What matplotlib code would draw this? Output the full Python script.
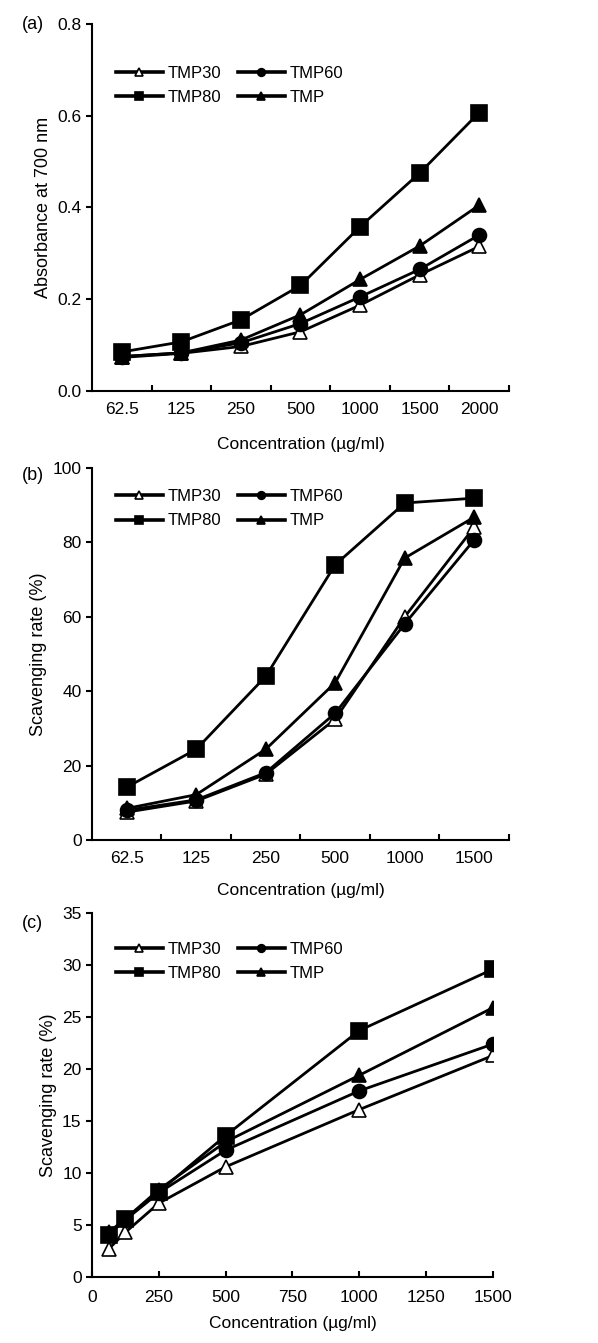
import matplotlib
matplotlib.use('Agg')
import matplotlib.pyplot as plt

plt.rcParams['font.family'] = ['Liberation Sans', 'DejaVu Sans']
plt.rcParams['font.size'] = 12

# panel (a): reducing power
conc_a = ['62.5', '125', '250', '500', '1000', '1500', '2000']
a_tmp30 = [0.073, 0.082, 0.097, 0.129, 0.187, 0.253, 0.315]
a_tmp60 = [0.075, 0.083, 0.105, 0.147, 0.205, 0.265, 0.340]
a_tmp80 = [0.085, 0.107, 0.155, 0.230, 0.358, 0.475, 0.607]
a_tmp = [0.075, 0.083, 0.111, 0.166, 0.243, 0.316, 0.405]

# panel (b)
conc_b = ['62.5', '125', '250', '500', '1000', '1500']
b_tmp30 = [7.5, 10.5, 17.7, 32.5, 60.0, 84.1]
b_tmp60 = [8.0, 10.8, 18.1, 34.1, 58.1, 80.7]
b_tmp80 = [14.2, 24.4, 44.0, 74.0, 90.6, 91.9]
b_tmp = [8.5, 12.2, 24.4, 42.3, 75.8, 86.8]

# panel (c)
conc_c = [62.5, 125, 250, 500, 1000, 1500]
c_tmp30 = [2.7, 4.3, 7.1, 10.6, 16.1, 21.3]
c_tmp60 = [4.1, 5.5, 8.1, 12.2, 17.9, 22.4]
c_tmp80 = [4.0, 5.6, 8.2, 13.6, 23.7, 29.6]
c_tmp = [4.3, 5.6, 8.4, 13.0, 19.4, 25.9]

names = ['TMP30', 'TMP60', 'TMP80', 'TMP']
markers = ['^', 'o', 's', '^']
faces = ['white', 'black', 'black', 'black']
sizes = [10, 10, 11, 10]


def draw(ax, x, series, legend_xy):
    lines = []
    for ys, name, m, fc, ms in zip(series, names, markers, faces, sizes):
        ln, = ax.plot(x, ys, color='black', lw=2, marker=m, ms=ms, mfc=fc,
                      mec='black', mew=1.2, label=name)
        lines.append(ln)
    # row-major order: TMP30 TMP60 / TMP80 TMP
    order = [0, 2, 1, 3]
    leg = ax.legend([lines[i] for i in order], [names[i] for i in order],
                    loc='upper left', bbox_to_anchor=legend_xy, ncol=2,
                    frameon=False, fontsize=12, handlelength=2.8, markerscale=0.55,
                    handletextpad=0.3, columnspacing=1.0, labelspacing=0.55,
                    borderpad=0, borderaxespad=0)
    for h in leg.legend_handles:
        h.set_linewidth(2.6)
    for side in ['top', 'right']:
        ax.spines[side].set_visible(False)
    for side in ['left', 'bottom']:
        ax.spines[side].set_linewidth(1.5)
    ax.tick_params(axis='y', direction='out', length=4, width=1.5, labelsize=12.5)
    ax.tick_params(axis='x', direction='in', length=4, width=1.5, labelsize=12.5, pad=8)


fig = plt.figure(figsize=(5.98, 13.43), dpi=100)

ax1 = fig.add_axes([0.1538, 0.7089, 0.6973, 0.2732])
xa = list(range(len(conc_a)))
draw(ax1, xa, [a_tmp30, a_tmp60, a_tmp80, a_tmp], (0.0576, 0.886))
ax1.set_xlim(-0.5, len(conc_a) - 0.5)
ax1.set_xticks([i + 0.5 for i in xa])
ax1.set_xticklabels([])
ax1.set_xticks(xa, minor=True)
ax1.set_xticklabels(conc_a, minor=True)
ax1.tick_params(axis='x', which='minor', length=0, labelsize=12.5, pad=8)
ax1.set_ylim(0, 0.8)
ax1.set_yticks([0, 0.2, 0.4, 0.6, 0.8])
ax1.set_yticklabels(['0.0', '0.2', '0.4', '0.6', '0.8'])
ax1.set_ylabel('Absorbance at 700 nm', fontsize=13)
ax1.set_xlabel('Concentration (µg/ml)', fontsize=12.5, labelpad=14)
fig.text(0.055, 0.982, '(a)', fontsize=13, va='center', ha='center')

ax2 = fig.add_axes([0.1538, 0.3745, 0.6973, 0.2770])
xb = list(range(len(conc_b)))
draw(ax2, xb, [b_tmp30, b_tmp60, b_tmp80, b_tmp], (0.0576, 0.943))
ax2.set_xlim(-0.5, len(conc_b) - 0.5)
ax2.set_xticks([i + 0.5 for i in xb])
ax2.set_xticklabels([])
ax2.set_xticks(xb, minor=True)
ax2.set_xticklabels(conc_b, minor=True)
ax2.tick_params(axis='x', which='minor', length=0, labelsize=12.5, pad=8)
ax2.set_ylim(0, 100)
ax2.set_yticks([0, 20, 40, 60, 80, 100])
ax2.set_ylabel('Scavenging rate (%)', fontsize=13)
ax2.set_xlabel('Concentration (µg/ml)', fontsize=12.5, labelpad=12)
fig.text(0.055, 0.646, '(b)', fontsize=13, va='center', ha='center')

ax3 = fig.add_axes([0.1538, 0.0491, 0.6706, 0.2711])
draw(ax3, conc_c, [c_tmp30, c_tmp60, c_tmp80, c_tmp], (0.06, 0.92))
ax3.set_xlim(0, 1500)
ax3.set_xticks([0, 250, 500, 750, 1000, 1250, 1500])
ax3.set_ylim(0, 35)
ax3.set_yticks([0, 5, 10, 15, 20, 25, 30, 35])
ax3.set_ylabel('Scavenging rate (%)', fontsize=13)
ax3.set_xlabel('Concentration (µg/ml)', fontsize=12.5, labelpad=8)
ax3.tick_params(axis='x', pad=9)
fig.text(0.055, 0.312, '(c)', fontsize=13, va='center', ha='center')

fig.savefig('out.png', dpi=100)
